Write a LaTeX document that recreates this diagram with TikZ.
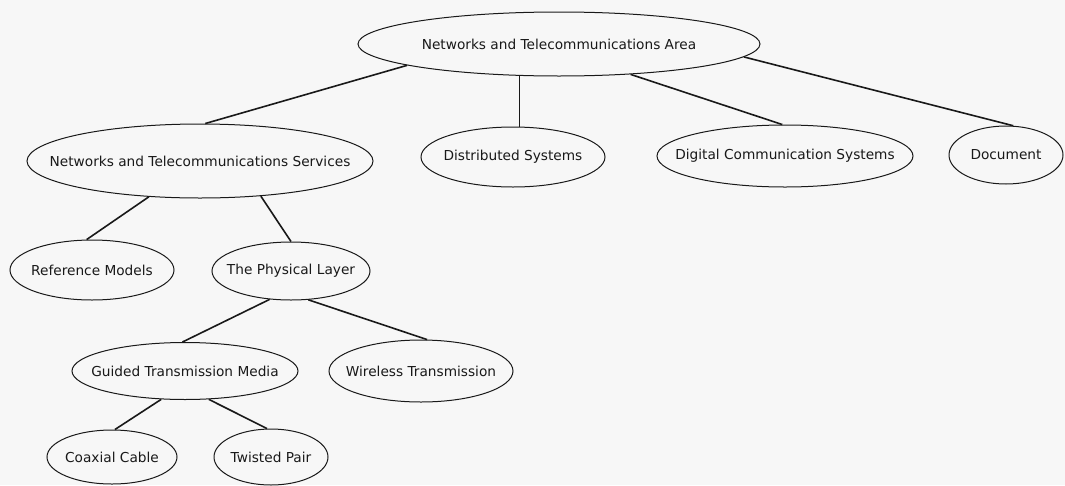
\documentclass[tikz,border=0pt]{standalone}
\usepackage{fontspec}
\setmainfont{DejaVu Sans}
\usetikzlibrary{shapes.geometric}
\tikzset{
  concept/.style={draw=black!90, ellipse, inner sep=0pt, line width=1pt,
    font=\fontsize{13.7}{16}\selectfont, text=black!90},
  link/.style={draw=black!90, line width=1.6pt}
}
\newcommand{\lbl}[1]{\makebox[0pt]{#1}}
\begin{document}
\begin{tikzpicture}[x=1pt,y=-1pt]
\fill[white!97!black] (0,0) rectangle (1065,485);
\useasboundingbox (0,0) rectangle (1065,485);

\node[concept, minimum width=402pt, minimum height=64pt] (top) at (559,44) {\lbl{Networks and Telecommunications Area}};
\node[concept, minimum width=346pt, minimum height=74pt] (nts) at (200,161) {\lbl{Networks and Telecommunications Services}};
\node[concept, minimum width=184pt, minimum height=60pt] (ds) at (513,157) {\lbl{Distributed Systems}};
\node[concept, minimum width=256pt, minimum height=62pt] (dcs) at (785,156) {\lbl{Digital Communication Systems}};
\node[concept, minimum width=114pt, minimum height=58pt] (doc) at (1006,155) {\lbl{Document}};
\node[concept, minimum width=164pt, minimum height=60pt] (rm) at (92,270) {\lbl{Reference Models}};
\node[concept, minimum width=158pt, minimum height=58pt] (pl) at (291,271) {\lbl{The Physical Layer}};
\node[concept, minimum width=226pt, minimum height=57pt] (gtm) at (185,371) {\lbl{Guided Transmission Media}};
\node[concept, minimum width=184pt, minimum height=62pt] (wt) at (421,371) {\lbl{Wireless Transmission}};
\node[concept, minimum width=130pt, minimum height=54pt] (cc) at (112,457) {\lbl{Coaxial Cable}};
\node[concept, minimum width=114pt, minimum height=56pt] (tp) at (271,457) {\lbl{Twisted Pair}};

\draw[link] (top.-172.9) -- (nts.82);
\draw[link] (top.-141.2) -- (top.-141.2 |- ds.north);
\draw[link] (top.-23.5) -- (dcs.95);
\draw[link] (top.-4.1) -- (doc.76);
\draw[link] (nts.-145.8) -- (rm.100);
\draw[link] (nts.-30) -- (pl.90);
\draw[link] (pl.-127.6) -- (gtm.95);
\draw[link] (pl.-59.6) -- (wt.79);
\draw[link] (gtm.-130) -- (cc.84);
\draw[link] (gtm.-50) -- (tp.98);
\end{tikzpicture}
\end{document}
